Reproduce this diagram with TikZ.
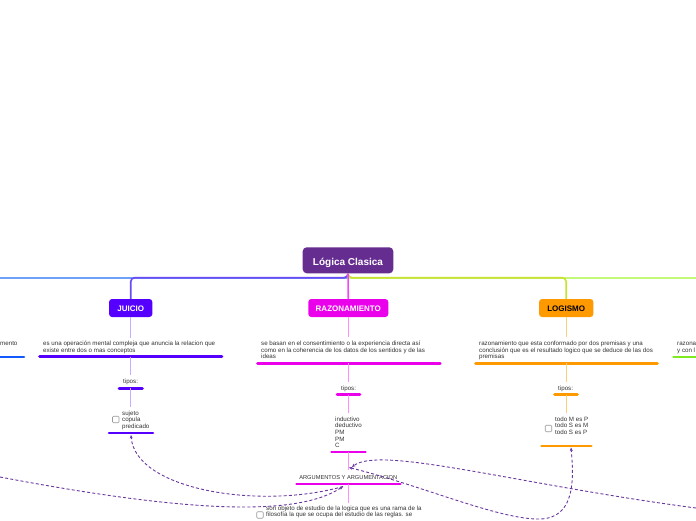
\documentclass[tikz,border=0pt]{standalone}
\usepackage{fontspec}
\setmainfont{Liberation Sans}
\usetikzlibrary{arrows.meta}
\definecolor{rootc}{RGB}{102,45,145}
\definecolor{juic}{RGB}{85,0,255}
\definecolor{juil}{RGB}{195,175,255}
\definecolor{razc}{RGB}{235,0,235}
\definecolor{razm}{RGB}{245,70,245}
\definecolor{razl}{RGB}{255,145,255}
\definecolor{logc}{RGB}{255,153,0}
\definecolor{logl}{RGB}{255,205,125}
\definecolor{blueL}{RGB}{110,160,250}
\definecolor{violetL}{RGB}{105,75,245}
\definecolor{limeL}{RGB}{200,225,50}
\definecolor{greenL}{RGB}{195,248,120}
\definecolor{offblue}{RGB}{20,90,255}
\definecolor{offgreen}{RGB}{125,235,30}
\definecolor{dashc}{RGB}{105,55,160}
\definecolor{txtc}{RGB}{50,50,50}
\newcommand\mylines[1]{\vtop{\baselineskip=6.7pt\lineskiplimit=-20pt\lineskip=0pt\halign{##\hfil\cr#1\crcr}}}
\tikzset{
  mainbox/.style={rounded corners=3pt, inner sep=0pt, minimum height=18pt, text height=6pt, text depth=0pt, font=\bfseries\fontsize{8}{9}\selectfont, text=white},
  txtnode/.style={inner sep=0pt, anchor=base west, text=txtc, font=\fontsize{6.2}{6.7}\selectfont},
  uline/.style={line width=2.6pt, line cap=round},
  stem/.style={line width=1.3pt},
  topline/.style={line width=1.6pt},
  cbox/.style={draw=gray!80, rounded corners=1pt, minimum size=6.5pt, inner sep=0pt, line width=0.6pt},
  link/.style={dashc, dash pattern=on 3pt off 2.2pt, line width=0.9pt},
  tip/.style={-{Stealth[length=3.5pt,width=3pt]}}
}
\begin{document}
\begin{tikzpicture}[x=1pt,y=-1pt]
\useasboundingbox (0,0) rectangle (696,520);

% main nodes
\node[fill=rootc, rounded corners=4pt, inner sep=0pt, minimum width=90.6pt, minimum height=26pt, text height=9.5pt, text depth=0pt, text=white, font=\bfseries\fontsize{10}{12}\selectfont] (root) at (348,260.3) {Lógica Clasica};
\node[mainbox, fill=juic, minimum width=43.3pt] (juicio) at (130.7,308) {JUICIO};
\node[mainbox, fill=razc, minimum width=80pt] (raz) at (348.3,308) {RAZONAMIENTO};
\node[mainbox, fill=logc, minimum width=54.3pt, text=black] (log) at (566.2,308) {LOGISMO};

% off-screen branch ends
\coordinate (offL) at (0,277.7);
\coordinate (offR) at (696,277.7);
\coordinate (rootY) at (348,277.7);

\draw[blueL, topline] (root.south) -- (rootY) -- (offL);
\draw[greenL, topline] (root.south) -- (rootY) -- (offR);
\draw[violetL, topline, rounded corners=4pt] (root.south) -- (rootY) -| (juicio.north);
\draw[limeL, topline, rounded corners=4pt] (root.south) -- (rootY) -| (log.north);
\draw[razm, topline] (root.south) -- (raz.north);

% ---------- JUICIO ----------
\coordinate (jdTop) at (130.7,338);
\draw[juil, stem] (juicio.south) -- (jdTop);
\node[txtnode] (jd) at (43,345.5) {\mylines{es una operación mental compleja que anuncia la relacion que\cr existe entre dos o mas conceptos}};
\draw[juic, uline] (39.5,356.7) -- (222,356.7);
\coordinate (jdU) at (130.7,356.7);
\coordinate (jtTop) at (130.7,375);
\draw[juil, stem] (jdU) -- (jtTop);
\node[txtnode] (jt) at (123,383) {tipos:};
\draw[juic, uline] (119,388.3) -- (142.5,388.3);
\coordinate (jtU) at (130.7,388.3);
\coordinate (jsTop) at (130.7,407);
\draw[juil, stem] (jtU) -- (jsTop);
\node[cbox] (cb1) at (115.7,419.5) {};
\node[txtnode] (js) at (122,415) {\mylines{sujeto\cr copula\cr predicado}};
\draw[juic, uline] (109,433) -- (153,433);
\coordinate (predU) at (131,435);

% ---------- RAZONAMIENTO ----------
\coordinate (rdTop) at (348.3,337);
\draw[razl, stem] (raz.south) -- (rdTop);
\node[txtnode] (rd) at (261,345.5) {\mylines{se basan en el consentimiento o la experiencia directa así\cr como en la coherencia de los datos de los sentidos y de las\cr ideas}};
\draw[razc, uline] (257.5,363.3) -- (440.3,363.3);
\coordinate (rdU) at (348.3,363.3);
\coordinate (rtTop) at (348.3,382);
\draw[razl, stem] (rdU) -- (rtTop);
\node[txtnode] (rt) at (341,390) {tipos:};
\draw[razc, uline] (337,394.7) -- (360,394.7);
\coordinate (rtU) at (348.3,394.7);
\coordinate (riTop) at (348.3,413);
\draw[razl, stem] (rtU) -- (riTop);
\node[txtnode] (ri) at (335,421) {\mylines{inductivo\cr deductivo\cr PM\cr PM\cr C}};
\draw[razc, uline] (331.5,452) -- (365.5,452);
\coordinate (riU) at (348.3,452);
\coordinate (raTop) at (348.3,470);
\draw[razl, stem] (riU) -- (raTop);
\node[inner sep=0pt, anchor=base, text=txtc, font=\fontsize{5.7}{6.6}\selectfont] (ra) at (348.3,479) {ARGUMENTOS Y ARGUMENTACION};
\draw[razc, uline] (296.5,484) -- (400.3,484);
\coordinate (raU) at (348.3,484);
\coordinate (rsTop) at (348.3,503);
\draw[razl, stem] (raU) -- (rsTop);
\node[cbox] (cb2) at (260,515) {};
\node[txtnode] (rs) at (266,510) {\mylines{son objeto de estudio de la logica que es una rama de la\cr filosofía la que se ocupa del estudio de las reglas. se}};

% ---------- LOGISMO ----------
\coordinate (ldTop) at (566.2,337);
\draw[logl, stem] (log.south) -- (ldTop);
\node[txtnode] (ld) at (479,345.5) {\mylines{razonamiento que esta conformado por dos premisas y una\cr conclusión que es el resultado logico que se deduce de las dos\cr premisas}};
\draw[logc, uline] (475.5,363.3) -- (657.5,363.3);
\coordinate (ldU) at (566.2,363.3);
\coordinate (ltTop) at (566.2,382);
\draw[logl, stem] (ldU) -- (ltTop);
\node[txtnode] (lt) at (558,390) {tipos:};
\draw[logc, uline] (554.5,394.7) -- (577.5,394.7);
\coordinate (ltU) at (566.2,394.7);
\coordinate (lsTop) at (566.2,413);
\draw[logl, stem] (ltU) -- (lsTop);
\node[cbox] (cb3) at (548.5,428.5) {};
\node[txtnode] (ls) at (555,421) {\mylines{todo M es P\cr todo S es M\cr todo S es P}};
\draw[logc, uline] (541.5,446) -- (591.3,446);
\coordinate (logU) at (571,447.5);

% ---------- off-screen topics ----------
\node[txtnode] (lm) at (0,345.5) {mento};
\draw[offblue, uline] (0,357) -- (24,357);
\node[txtnode] (rz) at (677,345.5) {\mylines{razona\cr y con l}};
\draw[offgreen, uline] (673.5,357) -- (697,357);

% ---------- dashed links ----------
\coordinate (offA) at (0,477);
\coordinate (argBL) at (343,486.5);
\coordinate (offC) at (696,508);
\coordinate (argT) at (352,467);
\coordinate (argT2) at (349,467.5);
\coordinate (dmid) at (540,519);

\draw[link, tip] (offA) .. controls (200,515) and (300,515) .. (argBL);
\draw[link, tip] (argBL) .. controls (260,510) and (135,490) .. (predU);
\draw[link, tip] (offC) .. controls (520,485) and (380,445) .. (argT);
\draw[link, {Stealth[length=3.5pt,width=3pt]}-{Stealth[length=3.5pt,width=3pt]}] (argT2) .. controls (420,485) and (500,520) .. (dmid) .. controls (575,518) and (574,480) .. (logU);
\end{tikzpicture}
\end{document}
